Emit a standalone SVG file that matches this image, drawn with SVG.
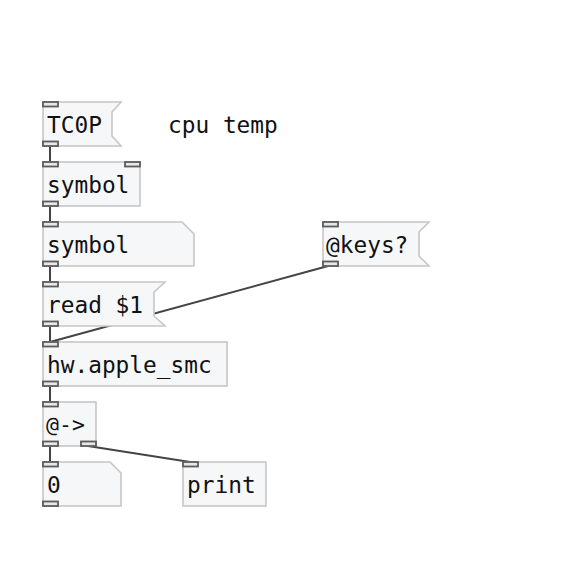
<svg xmlns="http://www.w3.org/2000/svg" width="561" height="567" viewBox="0 0 561 567">
<style>
.box{fill:#f6f7f9;stroke:#c6c6c6;stroke-width:1.6}
.io{fill:#e8e8e8;stroke:#5c5c5c;stroke-width:1.8}
.cord{stroke:#444;stroke-width:2;fill:none}
text{font-family:"DejaVu Sans Mono","Liberation Mono",monospace;font-size:22.8px;fill:#111}
</style>
<rect width="561" height="567" fill="#fff"/>
<g id="connectors">
<line class="cord" x1="50" y1="146" x2="50" y2="162"/>
<line class="cord" x1="50" y1="206" x2="50" y2="222"/>
<line class="cord" x1="50" y1="266" x2="50" y2="282"/>
<line class="cord" x1="50" y1="326" x2="50" y2="342"/>
<line class="cord" x1="328" y1="266" x2="50" y2="342"/>
<line class="cord" x1="50" y1="386" x2="50" y2="402"/>
<line class="cord" x1="50" y1="446" x2="50" y2="462"/>
<line class="cord" x1="88" y1="446" x2="190" y2="462"/>
</g>
<g id="tc0p">
<polygon class="box" points="43,102 121,102 112,112 112,136 121,146 43,146"/>
<rect class="io" x="43" y="102" width="15" height="4.5"/>
<rect class="io" x="43" y="141.5" width="15" height="4.5"/>
<text x="47" y="133">TC0P</text>
</g>
<g id="comment">
<text x="168" y="133">cpu temp</text>
</g>
<g id="symbol-obj">
<rect class="box" x="43" y="162" width="97" height="44"/>
<rect class="io" x="43" y="162" width="15" height="4.5"/>
<rect class="io" x="125" y="162" width="15" height="4.5"/>
<rect class="io" x="43" y="201.5" width="15" height="4.5"/>
<text x="47" y="193">symbol</text>
</g>
<g id="symbol-atom">
<polygon class="box" points="43,222 182,222 194,234 194,266 43,266"/>
<rect class="io" x="43" y="222" width="15" height="4.5"/>
<rect class="io" x="43" y="261.5" width="15" height="4.5"/>
<text x="47" y="253">symbol</text>
</g>
<g id="keys">
<polygon class="box" points="323,222 429,222 419,232 419,256 429,266 323,266"/>
<rect class="io" x="323" y="222" width="15" height="4.5"/>
<rect class="io" x="323" y="261.5" width="15" height="4.5"/>
<text x="326" y="253">@keys?</text>
</g>
<g id="read">
<polygon class="box" points="43,282 165,282 154,292 154,316 165,326 43,326"/>
<rect class="io" x="43" y="282" width="15" height="4.5"/>
<rect class="io" x="43" y="321.5" width="15" height="4.5"/>
<text x="47" y="313">read $1</text>
</g>
<g id="smc">
<rect class="box" x="43" y="342" width="184" height="44"/>
<rect class="io" x="43" y="342" width="15" height="4.5"/>
<rect class="io" x="43" y="381.5" width="15" height="4.5"/>
<text x="47" y="373">hw.apple_smc</text>
</g>
<g id="arrow">
<rect class="box" x="43" y="402" width="53" height="44"/>
<rect class="io" x="43" y="402" width="15" height="4.5"/>
<rect class="io" x="43" y="441.5" width="15" height="4.5"/>
<rect class="io" x="81" y="441.5" width="15" height="4.5"/>
<text x="46" y="432" style="font-size:21.5px">@-&gt;</text>
</g>
<g id="zero">
<polygon class="box" points="43,462 110,462 121,473 121,506 43,506"/>
<rect class="io" x="43" y="462" width="15" height="4.5"/>
<rect class="io" x="43" y="501.5" width="15" height="4.5"/>
<text x="47" y="493">0</text>
</g>
<g id="print">
<rect class="box" x="183" y="462" width="83" height="44"/>
<rect class="io" x="183" y="462" width="15" height="4.5"/>
<text x="187" y="493">print</text>
</g>
</svg>
